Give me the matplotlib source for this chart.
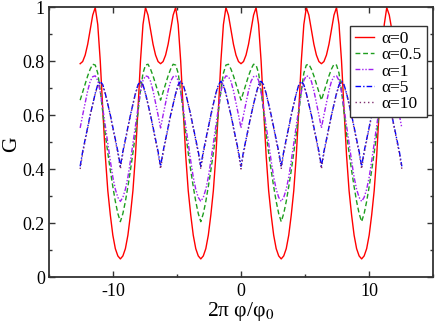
import numpy as np
import matplotlib
matplotlib.use("Agg")
import matplotlib.pyplot as plt

plt.rcParams['font.family'] = ['Liberation Serif', 'DejaVu Serif']
plt.rcParams['mathtext.fontset'] = 'stix'
plt.rcParams['axes.unicode_minus'] = False

# flux axis, 2*pi*phi/phi0, sampled every pi/16 from -4pi to 4pi
phase = np.linspace(-4 * np.pi, 4 * np.pi, 129)

# conductance, one row = half a period
g_a0 = [
    0.790, 0.798, 0.822, 0.862, 0.915, 0.970, 0.998, 0.935, 0.800, 0.620, 0.450, 0.320, 0.230, 0.155, 0.105, 0.078,
    0.067, 0.078, 0.105, 0.155, 0.230, 0.320, 0.450, 0.620, 0.800, 0.935, 0.998, 0.970, 0.915, 0.862, 0.822, 0.798,
    0.790, 0.798, 0.822, 0.862, 0.915, 0.970, 0.998, 0.935, 0.800, 0.620, 0.450, 0.320, 0.230, 0.155, 0.105, 0.078,
    0.067, 0.078, 0.105, 0.155, 0.230, 0.320, 0.450, 0.620, 0.800, 0.935, 0.998, 0.970, 0.915, 0.862, 0.822, 0.798,
    0.790, 0.798, 0.822, 0.862, 0.915, 0.970, 0.998, 0.935, 0.800, 0.620, 0.450, 0.320, 0.230, 0.155, 0.105, 0.078,
    0.067, 0.078, 0.105, 0.155, 0.230, 0.320, 0.450, 0.620, 0.800, 0.935, 0.998, 0.970, 0.915, 0.862, 0.822, 0.798,
    0.790, 0.798, 0.822, 0.862, 0.915, 0.970, 0.998, 0.935, 0.800, 0.620, 0.450, 0.320, 0.230, 0.155, 0.105, 0.078,
    0.067, 0.078, 0.105, 0.155, 0.230, 0.320, 0.450, 0.620, 0.800, 0.935, 0.998, 0.970, 0.915, 0.862, 0.822, 0.798,
    0.790,
]
g_a05 = [
    0.655, 0.685, 0.715, 0.745, 0.770, 0.788, 0.785, 0.755, 0.690, 0.610, 0.530, 0.460, 0.395, 0.335, 0.280, 0.235,
    0.205, 0.235, 0.280, 0.335, 0.395, 0.460, 0.530, 0.610, 0.690, 0.755, 0.785, 0.788, 0.770, 0.745, 0.715, 0.685,
    0.655, 0.685, 0.715, 0.745, 0.770, 0.788, 0.785, 0.755, 0.690, 0.610, 0.530, 0.460, 0.395, 0.335, 0.280, 0.235,
    0.205, 0.235, 0.280, 0.335, 0.395, 0.460, 0.530, 0.610, 0.690, 0.755, 0.785, 0.788, 0.770, 0.745, 0.715, 0.685,
    0.655, 0.685, 0.715, 0.745, 0.770, 0.788, 0.785, 0.755, 0.690, 0.610, 0.530, 0.460, 0.395, 0.335, 0.280, 0.235,
    0.205, 0.235, 0.280, 0.335, 0.395, 0.460, 0.530, 0.610, 0.690, 0.755, 0.785, 0.788, 0.770, 0.745, 0.715, 0.685,
    0.655, 0.685, 0.715, 0.745, 0.770, 0.788, 0.785, 0.755, 0.690, 0.610, 0.530, 0.460, 0.395, 0.335, 0.280, 0.235,
    0.205, 0.235, 0.280, 0.335, 0.395, 0.460, 0.530, 0.610, 0.690, 0.755, 0.785, 0.788, 0.770, 0.745, 0.715, 0.685,
    0.655,
]
g_a1 = [
    0.552, 0.600, 0.645, 0.690, 0.725, 0.742, 0.745, 0.728, 0.685, 0.625, 0.560, 0.495, 0.430, 0.370, 0.325, 0.295,
    0.280, 0.295, 0.325, 0.370, 0.430, 0.495, 0.560, 0.625, 0.685, 0.728, 0.745, 0.742, 0.725, 0.690, 0.645, 0.600,
    0.552, 0.600, 0.645, 0.690, 0.725, 0.742, 0.745, 0.728, 0.685, 0.625, 0.560, 0.495, 0.430, 0.370, 0.325, 0.295,
    0.280, 0.295, 0.325, 0.370, 0.430, 0.495, 0.560, 0.625, 0.685, 0.728, 0.745, 0.742, 0.725, 0.690, 0.645, 0.600,
    0.552, 0.600, 0.645, 0.690, 0.725, 0.742, 0.745, 0.728, 0.685, 0.625, 0.560, 0.495, 0.430, 0.370, 0.325, 0.295,
    0.280, 0.295, 0.325, 0.370, 0.430, 0.495, 0.560, 0.625, 0.685, 0.728, 0.745, 0.742, 0.725, 0.690, 0.645, 0.600,
    0.552, 0.600, 0.645, 0.690, 0.725, 0.742, 0.745, 0.728, 0.685, 0.625, 0.560, 0.495, 0.430, 0.370, 0.325, 0.295,
    0.280, 0.295, 0.325, 0.370, 0.430, 0.495, 0.560, 0.625, 0.685, 0.728, 0.745, 0.742, 0.725, 0.690, 0.645, 0.600,
    0.552,
]
g_a5 = [
    0.410, 0.465, 0.510, 0.555, 0.600, 0.640, 0.680, 0.712, 0.725, 0.712, 0.680, 0.640, 0.600, 0.555, 0.510, 0.465,
    0.410, 0.465, 0.510, 0.555, 0.600, 0.640, 0.680, 0.712, 0.725, 0.712, 0.680, 0.640, 0.600, 0.555, 0.510, 0.465,
    0.410, 0.465, 0.510, 0.555, 0.600, 0.640, 0.680, 0.712, 0.725, 0.712, 0.680, 0.640, 0.600, 0.555, 0.510, 0.465,
    0.410, 0.465, 0.510, 0.555, 0.600, 0.640, 0.680, 0.712, 0.725, 0.712, 0.680, 0.640, 0.600, 0.555, 0.510, 0.465,
    0.410, 0.465, 0.510, 0.555, 0.600, 0.640, 0.680, 0.712, 0.725, 0.712, 0.680, 0.640, 0.600, 0.555, 0.510, 0.465,
    0.410, 0.465, 0.510, 0.555, 0.600, 0.640, 0.680, 0.712, 0.725, 0.712, 0.680, 0.640, 0.600, 0.555, 0.510, 0.465,
    0.410, 0.465, 0.510, 0.555, 0.600, 0.640, 0.680, 0.712, 0.725, 0.712, 0.680, 0.640, 0.600, 0.555, 0.510, 0.465,
    0.410, 0.465, 0.510, 0.555, 0.600, 0.640, 0.680, 0.712, 0.725, 0.712, 0.680, 0.640, 0.600, 0.555, 0.510, 0.465,
    0.410,
]
g_a10 = [
    0.400, 0.458, 0.505, 0.552, 0.598, 0.640, 0.678, 0.708, 0.720, 0.708, 0.678, 0.640, 0.598, 0.552, 0.505, 0.458,
    0.400, 0.458, 0.505, 0.552, 0.598, 0.640, 0.678, 0.708, 0.720, 0.708, 0.678, 0.640, 0.598, 0.552, 0.505, 0.458,
    0.400, 0.458, 0.505, 0.552, 0.598, 0.640, 0.678, 0.708, 0.720, 0.708, 0.678, 0.640, 0.598, 0.552, 0.505, 0.458,
    0.400, 0.458, 0.505, 0.552, 0.598, 0.640, 0.678, 0.708, 0.720, 0.708, 0.678, 0.640, 0.598, 0.552, 0.505, 0.458,
    0.400, 0.458, 0.505, 0.552, 0.598, 0.640, 0.678, 0.708, 0.720, 0.708, 0.678, 0.640, 0.598, 0.552, 0.505, 0.458,
    0.400, 0.458, 0.505, 0.552, 0.598, 0.640, 0.678, 0.708, 0.720, 0.708, 0.678, 0.640, 0.598, 0.552, 0.505, 0.458,
    0.400, 0.458, 0.505, 0.552, 0.598, 0.640, 0.678, 0.708, 0.720, 0.708, 0.678, 0.640, 0.598, 0.552, 0.505, 0.458,
    0.400, 0.458, 0.505, 0.552, 0.598, 0.640, 0.678, 0.708, 0.720, 0.708, 0.678, 0.640, 0.598, 0.552, 0.505, 0.458,
    0.400,
]

labels = ['α=0', 'α=0.5', 'α=1', 'α=5', 'α=10']
x_ticks = [-10, 0, 10]
y_ticks = [0, 0.2, 0.4, 0.6, 0.8, 1]
y_ticklabels = ['0', '0.2', '0.4', '0.6', '0.8', '1']

fig = plt.figure(figsize=(4.36, 3.26), dpi=100)
ax = fig.add_axes([0.1124, 0.1503, 0.8807, 0.8282])

ax.plot(phase, g_a0, color='#ff0000', lw=1.0, label=labels[0])
ax.plot(phase, g_a05, color='#1e9e1e', lw=1.0, dashes=(3.5, 2), label=labels[1])
ax.plot(phase, g_a1, color='#a020f0', lw=1.0, dashes=(3.5, 1.3, 1, 1.3, 1, 1.3), label=labels[2])
ax.plot(phase, g_a5, color='#0000ff', lw=1.0, dashes=(4, 1.5, 1, 1.5), label=labels[3])
ax.plot(phase, g_a10, color='#803070', lw=1.0, dashes=(1, 2), label=labels[4])

ax.set_xlim(-15, 15)
ax.set_ylim(0, 1)
ax.set_xticks(x_ticks)
ax.set_xticks([-15, -5, 5, 15], minor=True)
ax.set_yticks(y_ticks)
ax.set_yticklabels(y_ticklabels)
ax.set_yticks([0.1, 0.3, 0.5, 0.7, 0.9], minor=True)
ax.tick_params(which='both', direction='in', top=True, right=True, labelsize=13,
               color='#333333', width=1.0)
ax.tick_params(which='major', length=4)
ax.tick_params(which='minor', length=2.5)
ax.tick_params(axis='x', pad=4)
ax.tick_params(axis='y', pad=3)
for s in ax.spines.values():
    s.set_linewidth(1.3)
    s.set_color('#333333')

ax.set_xlabel('2π φ/φ$_0$', fontsize=15.5, labelpad=0)
ax.set_ylabel('G', fontsize=15.5, rotation=90)
ax.yaxis.set_label_coords(-0.072, 0.49)

leg = ax.legend(loc='upper right', bbox_to_anchor=(0.984, 0.93), fontsize=12.5,
                handlelength=1.1, handletextpad=0.4, labelspacing=0.0,
                borderpad=0.3, fancybox=False, framealpha=1.0,
                borderaxespad=0)
leg.get_frame().set_edgecolor('#333333')
leg.get_frame().set_linewidth(1.0)

fig.savefig('out.png', dpi=100)
